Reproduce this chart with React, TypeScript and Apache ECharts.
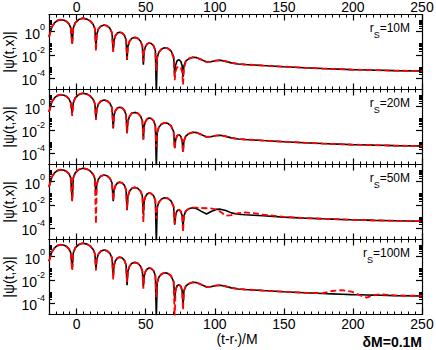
import React, { useEffect, useRef } from "react";
import * as echarts from "echarts";

// time grid (t - r*)/M shared by all curves
const tGrid = [
  -20, -18, -16, -14, -11.5, -9, -7, -5.5, -4.3, -3.2,
  -2.4, -1, 1.5, 4.5, 7.5, 10, 12, 13.2, 14,
  14.6, 15.8, 17.5, 19.8, 22, 24, 25.6, 26.5,
  27.1, 28, 29.5, 31, 32.8, 34.5, 35.8, 36.5,
  37.1, 38.3, 40, 42, 44.2, 46.3, 47.6, 48.3,
  48.9, 49.8, 51, 52.5, 54, 55.8, 57, 57.7,
  58.3, 59.5, 61.3, 63.5, 66, 68.3, 70.2, 71,
  71.6, 72.6, 74, 75.4, 76.4, 77,
  77.7, 79, 81, 84, 87, 90, 94, 97, 101, 104, 108, 112, 117, 122, 128, 135, 150, 165, 178, 185, 192, 199, 206, 210, 215, 220, 230, 250,
];

// log10 |psi| values
const p1Black = [
  -0.47, 0.4, 0.75, 0.95, 1.03, 0.98, 0.85, 0.66, 0.34, -1.05,
  0.33, 0.75, 1.04, 1.16, 1.08, 0.9, 0.62, 0.25, -1.35,
  -0.22, 0.22, 0.47, 0.57, 0.5, 0.3, -0.1, -1.7,
  -0.75, -0.38, -0.12, -0.05, -0.1, -0.3, -0.72, -2.45,
  -1.28, -0.83, -0.57, -0.5, -0.57, -0.83, -1.25, -2.86,
  -1.68, -1.3, -1.07, -0.98, -1.03, -1.24, -1.66, -5.3,
  -2.25, -1.78, -1.52, -1.4, -1.45, -1.66, -2.15, -3.72,
  -2.93, -2.54, -2.42, -2.56, -2.95, -3.92,
  -2.95, -2.55, -2.35, -2.22, -2.25, -2.4, -2.62, -2.6, -2.5, -2.47, -2.57, -2.7, -2.8, -2.84, -2.88, -2.93, -3.03, -3.12, -3.19, -3.22, -3.25, -3.28, -3.3, -3.31, -3.33, -3.34, -3.37, -3.4,
];
const p1Red = [
  -0.47, 0.4, 0.75, 0.95, 1.03, 0.98, 0.85, 0.66, 0.34, -1.1,
  0.33, 0.75, 1.04, 1.16, 1.08, 0.9, 0.62, 0.25, -1.7,
  -0.22, 0.22, 0.47, 0.57, 0.5, 0.3, -0.1, -1.75,
  -0.75, -0.38, -0.12, -0.05, -0.1, -0.3, -0.72, -2.4,
  -1.28, -0.83, -0.57, -0.5, -0.57, -0.83, -1.25, -2.6,
  -1.68, -1.3, -1.07, -0.98, -1.03, -1.24, -1.66, -3.4,
  -2.25, -1.78, -1.52, -1.4, -1.45, -1.66, -2.3, -4.2,
  -3.45, -3.1, -3.0, -3.1, -3.5, -4.6,
  -3.2, -2.55, -2.35, -2.22, -2.25, -2.4, -2.62, -2.6, -2.5, -2.47, -2.57, -2.7, -2.8, -2.84, -2.88, -2.93, -3.03, -3.12, -3.19, -3.22, -3.25, -3.28, -3.3, -3.31, -3.33, -3.34, -3.37, -3.4,
];
const p2Black = [
  -0.47, 0.4, 0.75, 0.95, 1.03, 0.98, 0.85, 0.66, 0.34, -0.55,
  0.33, 0.75, 1.04, 1.16, 1.08, 0.9, 0.62, 0.25, -1.0,
  -0.22, 0.22, 0.47, 0.57, 0.5, 0.3, -0.1, -1.88,
  -0.75, -0.38, -0.12, -0.05, -0.1, -0.3, -0.72, -2.3,
  -1.28, -0.83, -0.57, -0.5, -0.57, -0.83, -1.25, -2.83,
  -1.68, -1.3, -1.07, -0.98, -1.03, -1.24, -1.66, -5.3,
  -2.25, -1.78, -1.52, -1.4, -1.45, -1.66, -2.15, -3.6,
  -2.93, -2.54, -2.42, -2.56, -2.95, -3.9,
  -2.95, -2.55, -2.35, -2.22, -2.25, -2.4, -2.62, -2.6, -2.5, -2.47, -2.57, -2.7, -2.8, -2.84, -2.88, -2.93, -3.03, -3.12, -3.19, -3.22, -3.25, -3.28, -3.3, -3.31, -3.33, -3.34, -3.37, -3.4,
];
const p2Red = [
  -0.47, 0.4, 0.75, 0.95, 1.03, 0.98, 0.85, 0.66, 0.34, -0.8,
  0.33, 0.75, 1.04, 1.16, 1.08, 0.9, 0.62, 0.25, -1.15,
  -0.22, 0.22, 0.47, 0.57, 0.5, 0.3, -0.1, -1.8,
  -0.75, -0.38, -0.12, -0.05, -0.1, -0.3, -0.72, -2.3,
  -1.28, -0.83, -0.57, -0.5, -0.57, -0.83, -1.25, -2.83,
  -1.68, -1.3, -1.07, -0.98, -1.03, -1.24, -1.66, -3.5,
  -2.25, -1.78, -1.52, -1.4, -1.45, -1.66, -2.15, -3.65,
  -2.93, -2.54, -2.42, -2.56, -2.95, -4.0,
  -2.95, -2.55, -2.35, -2.22, -2.25, -2.4, -2.62, -2.6, -2.5, -2.47, -2.57, -2.7, -2.8, -2.84, -2.88, -2.93, -3.03, -3.12, -3.19, -3.22, -3.25, -3.28, -3.3, -3.31, -3.33, -3.34, -3.37, -3.4,
];
const p3Black = [
  -0.47, 0.4, 0.75, 0.95, 1.03, 0.98, 0.85, 0.66, 0.34, -1.62,
  0.33, 0.75, 1.04, 1.16, 1.08, 0.9, 0.62, 0.25, -1.19,
  -0.22, 0.22, 0.47, 0.57, 0.5, 0.3, -0.1, -1.7,
  -0.75, -0.38, -0.12, -0.05, -0.1, -0.3, -0.72, -2.48,
  -1.28, -0.83, -0.57, -0.5, -0.57, -0.83, -1.25, -2.86,
  -1.68, -1.3, -1.07, -0.98, -1.03, -1.24, -1.66, -5.3,
  -2.25, -1.78, -1.52, -1.4, -1.45, -1.66, -2.15, -3.72,
  -2.93, -2.54, -2.42, -2.56, -2.95, -3.92,
  -2.95, -2.55, -2.35, -2.25, -2.35, -2.55, -2.8, -2.6, -2.4, -2.38, -2.5, -2.7, -2.82, -2.86, -2.9, -2.95, -3.07, -3.15, -3.21, -3.24, -3.27, -3.3, -3.32, -3.33, -3.35, -3.36, -3.38, -3.42,
];
const p3Red = [
  -0.47, 0.4, 0.75, 0.95, 1.03, 0.98, 0.85, 0.66, 0.34, -1.7,
  0.33, 0.75, 1.04, 1.16, 1.08, 0.9, 0.62, 0.25, -3.64,
  -0.22, 0.22, 0.47, 0.57, 0.5, 0.3, -0.1, -1.65,
  -0.75, -0.38, -0.12, -0.05, -0.1, -0.3, -0.72, -2.4,
  -1.28, -0.83, -0.57, -0.5, -0.57, -0.83, -1.25, -3.5,
  -1.68, -1.3, -1.07, -0.98, -1.03, -1.24, -1.66, -3.2,
  -2.25, -1.78, -1.52, -1.4, -1.45, -1.66, -2.15, -3.65,
  -2.93, -2.54, -2.42, -2.56, -2.95, -4.36,
  -2.95, -2.55, -2.35, -2.25, -2.25, -2.28, -2.3, -2.32, -2.4, -2.6, -2.95, -2.9, -2.72, -2.66, -2.72, -2.85, -3.05, -3.15, -3.21, -3.24, -3.27, -3.3, -3.32, -3.33, -3.35, -3.36, -3.38, -3.42,
];
const p4Black = [
  -0.4, 0.4, 0.75, 0.95, 1.03, 0.98, 0.85, 0.66, 0.34, -1.04,
  0.33, 0.75, 1.04, 1.16, 1.08, 0.9, 0.62, 0.25, -1.04,
  -0.22, 0.22, 0.47, 0.57, 0.5, 0.3, -0.1, -1.6,
  -0.75, -0.38, -0.12, -0.05, -0.1, -0.3, -0.72, -2.48,
  -1.28, -0.83, -0.57, -0.5, -0.57, -0.83, -1.25, -2.6,
  -1.68, -1.3, -1.07, -0.98, -1.03, -1.24, -1.66, -5.3,
  -2.25, -1.78, -1.52, -1.4, -1.45, -1.66, -2.15, -3.72,
  -2.93, -2.54, -2.42, -2.56, -2.95, -4.21,
  -2.95, -2.55, -2.35, -2.22, -2.25, -2.4, -2.62, -2.6, -2.5, -2.47, -2.57, -2.7, -2.8, -2.84, -2.88, -2.93, -3.03, -3.12, -3.19, -3.22, -3.25, -3.28, -3.3, -3.31, -3.33, -3.34, -3.37, -3.4,
];
const p4Red = [
  -0.4, 0.4, 0.75, 0.95, 1.03, 0.98, 0.85, 0.66, 0.34, -1.2,
  0.33, 0.75, 1.04, 1.16, 1.08, 0.9, 0.62, 0.25, -1.2,
  -0.22, 0.22, 0.47, 0.57, 0.5, 0.3, -0.1, -1.99,
  -0.75, -0.38, -0.12, -0.05, -0.1, -0.3, -0.72, -2.2,
  -1.28, -0.83, -0.57, -0.5, -0.57, -0.83, -1.25, -2.77,
  -1.68, -1.3, -1.07, -0.98, -1.03, -1.24, -1.66, -3.5,
  -2.25, -1.78, -1.52, -1.4, -1.45, -1.66, -2.15, -5.3,
  -2.93, -2.54, -2.42, -2.56, -2.95, -4.6,
  -2.95, -2.55, -2.35, -2.22, -2.25, -2.4, -2.62, -2.6, -2.5, -2.47, -2.57, -2.7, -2.8, -2.84, -2.88, -2.93, -3.03, -3.12, -3.15, -2.97, -2.89, -3.03, -3.38, -3.55, -3.32, -3.26, -3.35, -3.38,
];

const panelLabels = ["10M", "20M", "50M", "100M"];
const blackSeries = [p1Black, p2Black, p3Black, p4Black];
const redSeries = [p1Red, p2Red, p3Red, p4Red];
const xMajorTicks = [0, 50, 100, 150, 200, 250];
const yMajorTicks = [1e-4, 1e-2, 1];
const yMinorMultipliers = [2, 3, 4, 5, 6, 7, 8, 9];
const yMinorTicks = yMajorTicks.flatMap((m) => yMinorMultipliers.map((k) => k * m));
const yTitle = "|ψ(t,x)|";

const FONT = "'Liberation Sans', Arial, Helvetica, sans-serif";

const toData = (logs: number[]) => tGrid.map((t, i) => [t, Math.pow(10, logs[i])]);

export default function App() {
  const ref = useRef<HTMLDivElement>(null);

  useEffect(() => {
    if (!ref.current) return;
    const chart = echarts.init(ref.current, undefined, { renderer: "svg" });

    const gridLeft = 49;
    const gridRight = 14;
    const gridTop = 14.5;
    const gridH = 75;

    const grids: any[] = [];
    const xAxes: any[] = [];
    const yAxes: any[] = [];
    const series: any[] = [];
    const graphics: any[] = [];

    const axisLine = { show: true, onZero: false, lineStyle: { color: "#000", width: 1.2 } };
    const noLine = { show: false, onZero: false };

    for (let i = 0; i < 4; i++) {
      grids.push({
        left: gridLeft,
        right: gridRight,
        top: gridTop + gridH * i,
        height: gridH,
        containLabel: false,
        outerBoundsMode: "none",
      });
      const xBase = {
        gridIndex: i,
        type: "value",
        min: -20,
        max: 250,
        splitLine: { show: false },
      };
      // bottom major
      xAxes.push({
        ...xBase,
        position: "bottom",
        axisLine,
        axisTick: { show: true, inside: true, length: 6, customValues: xMajorTicks, lineStyle: { color: "#000", width: 1.2 } },
        axisLabel: {
          show: i === 3,
          customValues: xMajorTicks,
          fontSize: 14,
          lineHeight: 13,
          color: "#000",
          fontFamily: FONT,
          margin: 3,
        },
      });
      // bottom minor
      xAxes.push({
        ...xBase,
        position: "bottom",
        interval: 5,
        axisLine: noLine,
        axisTick: { show: true, inside: true, length: 3, lineStyle: { color: "#000", width: 1 } },
        axisLabel: { show: false },
      });
      // top major
      xAxes.push({
        ...xBase,
        position: "top",
        axisLine,
        axisTick: { show: true, inside: true, length: 6, customValues: xMajorTicks, lineStyle: { color: "#000", width: 1.2 } },
        axisLabel: {
          show: i === 0,
          customValues: xMajorTicks,
          fontSize: 14,
          lineHeight: 13,
          color: "#000",
          fontFamily: FONT,
          margin: 1.5,
        },
      });
      // top minor
      xAxes.push({
        ...xBase,
        position: "top",
        interval: 5,
        axisLine: noLine,
        axisTick: { show: true, inside: true, length: 3, lineStyle: { color: "#000", width: 1 } },
        axisLabel: { show: false },
      });

      const yBase = {
        gridIndex: i,
        type: "log",
        logBase: 10,
        min: 1e-5,
        max: 30,
        splitLine: { show: false },
      };
      yAxes.push({
        ...yBase,
        position: "left",
        axisLine,
        axisTick: { show: true, inside: true, length: 6, customValues: yMajorTicks, lineStyle: { color: "#000", width: 1.2 } },
        axisLabel: {
          show: true,
          customValues: yMajorTicks,
          margin: 4,
          formatter: (v: number) => `{b|10}{s|${Math.round(Math.log10(v))}}`,
          rich: {
            b: { fontSize: 14, color: "#000", fontFamily: FONT, lineHeight: 19, verticalAlign: "bottom" },
            s: { fontSize: 9, color: "#000", fontFamily: FONT, lineHeight: 19, verticalAlign: "top" },
          },
        },
      });
      yAxes.push({
        ...yBase,
        position: "left",
        axisLine: noLine,
        axisTick: { show: true, inside: true, length: 3, customValues: yMinorTicks, lineStyle: { color: "#000", width: 1 } },
        axisLabel: { show: false },
      });
      yAxes.push({
        ...yBase,
        position: "right",
        axisLine,
        axisTick: { show: true, inside: true, length: 6, customValues: yMajorTicks, lineStyle: { color: "#000", width: 1.2 } },
        axisLabel: { show: false },
      });
      yAxes.push({
        ...yBase,
        position: "right",
        axisLine: noLine,
        axisTick: { show: true, inside: true, length: 3, customValues: yMinorTicks, lineStyle: { color: "#000", width: 1 } },
        axisLabel: { show: false },
      });

      series.push({
        type: "line",
        name: `black${i}`,
        xAxisIndex: i * 4,
        yAxisIndex: i * 4,
        data: toData(blackSeries[i]),
        symbol: "none",
        showSymbol: false,
        clip: true,
        lineStyle: { color: "#000", width: 1.6 },
        z: 2,
      });
      series.push({
        type: "line",
        name: `red${i}`,
        xAxisIndex: i * 4,
        yAxisIndex: i * 4,
        data: toData(redSeries[i]),
        symbol: "none",
        showSymbol: false,
        clip: true,
        lineStyle: { color: "#ff0000", width: 1.8, type: [6, 3] },
        z: 3,
      });

      // y-axis title (rotated)
      graphics.push({
        type: "text",
        x: 8.5,
        y: gridTop + gridH * i + 37.5,
        rotation: Math.PI / 2,
        style: {
          text: yTitle,
          align: "center",
          verticalAlign: "middle",
          fill: "#000",
          font: `14px ${FONT}`,
          lineHeight: 14,
        },
      });

      graphics.push({
        type: "text",
        x: 410,
        y: 22 + gridH * i,
        style: {
          text: `{a|r}{b|S}{a|=${panelLabels[i]}}`,
          align: "right",
          verticalAlign: "top",
          rich: {
            a: { fontSize: 12, fill: "#000", fontFamily: FONT, lineHeight: 17, verticalAlign: "top" },
            b: { fontSize: 9, fill: "#000", fontFamily: FONT, lineHeight: 17, verticalAlign: "bottom" },
          },
        },
      });
    }

    // x-axis title
    graphics.push({
      type: "text",
      x: 237,
      y: 339,
      style: {
        text: "{a|(t-r}{s|*}{a|)/M}",
        align: "center",
        verticalAlign: "middle",
        rich: {
          a: { fontSize: 14, fill: "#000", fontFamily: FONT, lineHeight: 13, verticalAlign: "middle" },
          s: { fontSize: 8, fill: "#000", fontFamily: FONT, lineHeight: 13, verticalAlign: "bottom" },
        },
      },
    });

    graphics.push({
      type: "text",
      x: 422,
      y: 342,
      style: {
        text: "δM=0.1M",
        align: "right",
        verticalAlign: "middle",
        fill: "#000",
        font: `bold 14px ${FONT}`,
      },
    });

    chart.setOption({
      animation: false,
      backgroundColor: "#fff",
      grid: grids,
      xAxis: xAxes,
      yAxis: yAxes,
      series,
      graphic: graphics,
    });

    return () => chart.dispose();
  }, []);

  return (
    <div
      ref={ref}
      style={{ position: "fixed", left: 0, top: 0, width: 436, height: 350 }}
    />
  );
}
